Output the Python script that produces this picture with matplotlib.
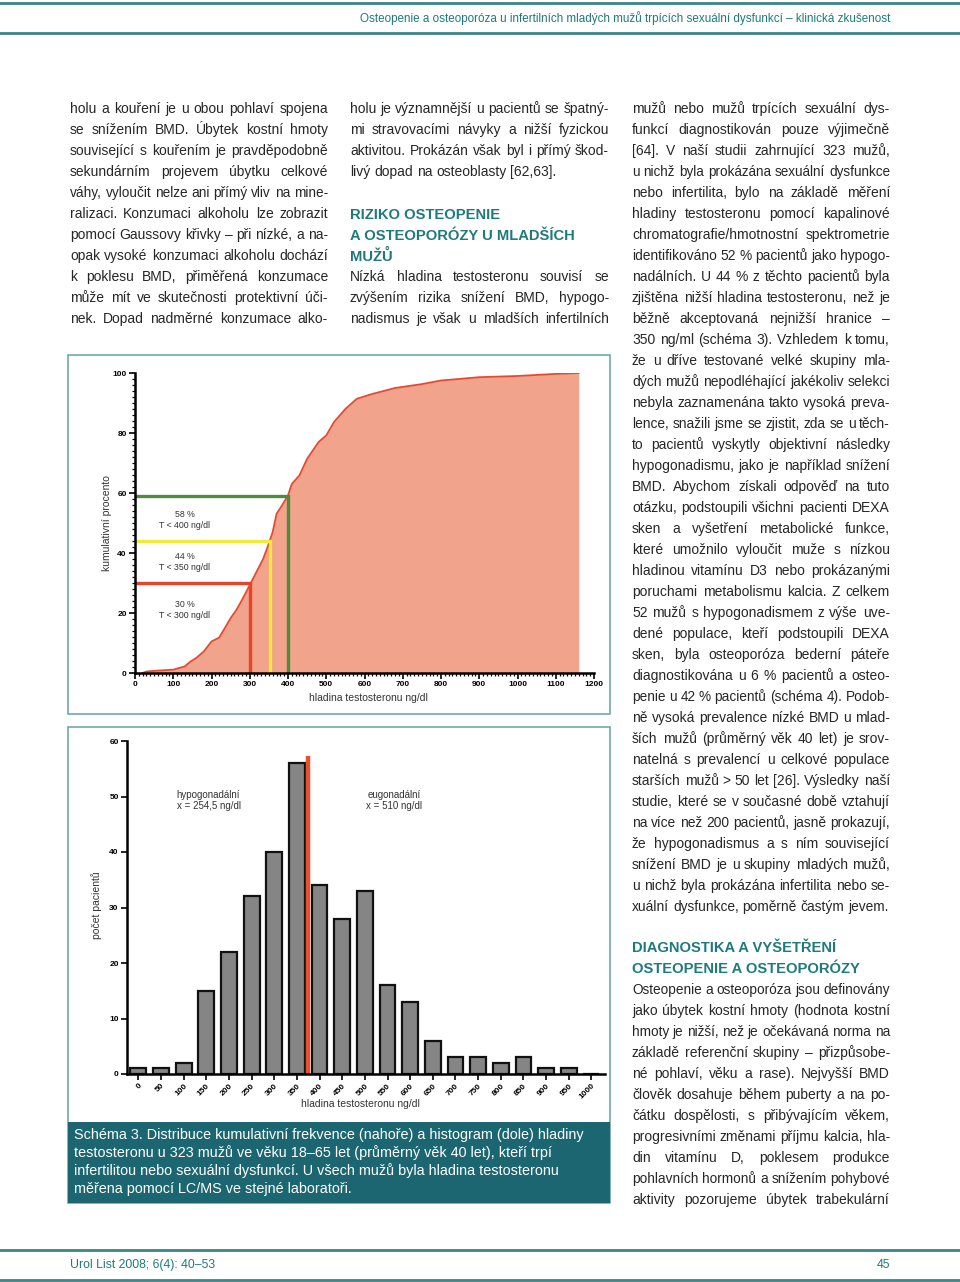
import numpy as np
import matplotlib
matplotlib.use("Agg")
import matplotlib.pyplot as plt
from matplotlib.patches import Rectangle
from matplotlib.lines import Line2D
from matplotlib.ticker import MultipleLocator

W, H = 960, 1282

# ---- data: cumulative frequency (top chart) ----
cum_x = [20, 30, 60, 100, 130, 145, 160, 180, 200, 220, 235, 250, 265, 280, 300,
         320, 335, 350, 360, 370, 385, 400, 410, 430, 450, 480, 500, 520, 550,
         580, 620, 680, 750, 800, 900, 1000, 1100, 1160]
cum_y = [0, 0.5, 0.8, 1.1, 2.2, 3.8, 5, 7.2, 10.5, 11.8, 15, 18.3, 21, 24.4, 29.3,
         34.3, 38, 43.2, 47, 53, 56, 59.2, 63, 65.9, 71.4, 77, 79.2, 83.6, 88,
         91.4, 93, 95, 96.3, 97.5, 98.6, 99, 99.7, 100]
cut_levels = [300, 352, 400]
cut_percent = [30, 44, 59]
cut_colors = ["#e8442c", "#f4e83a", "#4e8c3c"]
cut_labels = ["30 %\nT < 300 ng/dl", "44 %\nT < 350 ng/dl", "58 %\nT < 400 ng/dl"]
cut_label_y = [21, 37, 51]

# ---- data: histogram (bottom chart) ----
hist_bins = [0, 50, 100, 150, 200, 250, 300, 350, 400, 450, 500,
             550, 600, 650, 700, 750, 800, 850, 900, 950, 1000]
hist_counts = [1, 1, 2, 15, 22, 32, 40, 56, 34, 28, 33,
               16, 13, 6, 3, 3, 2, 3, 1, 1, 0]

# ---- page text ----
header_text = "Osteopenie a osteoporóza u infertilních mladých mužů trpících sexuální dysfunkcí – klinická zkušenost"
footer_left = "Urol List 2008; 6(4): 40–53"
footer_right = "45"

col1_lines = [
    "holu a kouření je u obou pohlaví spojena",
    "se snížením BMD. Úbytek kostní hmoty",
    "související s kouřením je pravděpodobně",
    "sekundárním projevem úbytku celkové",
    "váhy, vyloučit nelze ani přímý vliv na mine-",
    "ralizaci. Konzumaci alkoholu lze zobrazit",
    "pomocí Gaussovy křivky – při nízké, a na-",
    "opak vysoké konzumaci alkoholu dochází",
    "k poklesu BMD, přiměřená konzumace",
    "může mít ve skutečnosti protektivní úči-",
    "nek. Dopad nadměrné konzumace alko-",
]
col2_lines_a = [
    "holu je významnější u pacientů se špatný-",
    "mi stravovacími návyky a nižší fyzickou",
    "aktivitou. Prokázán však byl i přímý škod-",
    "livý dopad na osteoblasty [62,63].",
]
col2_heading = ["RIZIKO OSTEOPENIE", "A OSTEOPORÓZY U MLADŠÍCH", "MUŽŮ"]
col2_lines_b = [
    "Nízká hladina testosteronu souvisí se",
    "zvýšením rizika snížení BMD, hypogo-",
    "nadismus je však u mladších infertilních",
]
col3_lines_a = [
    "mužů nebo mužů trpících sexuální dys-",
    "funkcí diagnostikován pouze výjimečně",
    "[64]. V naší studii zahrnující 323 mužů,",
    "u nichž byla prokázána sexuální dysfunkce",
    "nebo infertilita, bylo na základě měření",
    "hladiny testosteronu pomocí kapalinové",
    "chromatografie/hmotnostní spektrometrie",
    "identifikováno 52 % pacientů jako hypogo-",
    "nadálních. U 44 % z těchto pacientů byla",
    "zjištěna nižší hladina testosteronu, než je",
    "běžně akceptovaná nejnižší hranice –",
    "350 ng/ml (schéma 3). Vzhledem k tomu,",
    "že u dříve testované velké skupiny mla-",
    "dých mužů nepodléhající jakékoliv selekci",
    "nebyla zaznamenána takto vysoká preva-",
    "lence, snažili jsme se zjistit, zda se u těch-",
    "to pacientů vyskytly objektivní následky",
    "hypogonadismu, jako je například snížení",
    "BMD. Abychom získali odpověď na tuto",
    "otázku, podstoupili všichni pacienti DEXA",
    "sken a vyšetření metabolické funkce,",
    "které umožnilo vyloučit muže s nízkou",
    "hladinou vitamínu D3 nebo prokázanými",
    "poruchami metabolismu kalcia. Z celkem",
    "52 mužů s hypogonadismem z výše uve-",
    "dené populace, kteří podstoupili DEXA",
    "sken, byla osteoporóza bederní páteře",
    "diagnostikována u 6 % pacientů a osteo-",
    "penie u 42 % pacientů (schéma 4). Podob-",
    "ně vysoká prevalence nízké BMD u mlad-",
    "ších mužů (průměrný věk 40 let) je srov-",
    "natelná s prevalencí u celkové populace",
    "starších mužů > 50 let [26]. Výsledky naší",
    "studie, které se v současné době vztahují",
    "na více než 200 pacientů, jasně prokazují,",
    "že hypogonadismus a s ním související",
    "snížení BMD je u skupiny mladých mužů,",
    "u nichž byla prokázána infertilita nebo se-",
    "xuální dysfunkce, poměrně častým jevem.",
]
col3_heading = ["DIAGNOSTIKA A VYŠETŘENÍ", "OSTEOPENIE A OSTEOPORÓZY"]
col3_lines_b = [
    "Osteopenie a osteoporóza jsou definovány",
    "jako úbytek kostní hmoty (hodnota kostní",
    "hmoty je nižší, než je očekávaná norma na",
    "základě referenční skupiny – přizpůsobe-",
    "né pohlaví, věku a rase). Nejvyšší BMD",
    "člověk dosahuje během puberty a na po-",
    "čátku dospělosti, s přibývajícím věkem,",
    "progresivními změnami příjmu kalcia, hla-",
    "din vitamínu D, poklesem produkce",
    "pohlavních hormonů a snížením pohybové",
    "aktivity pozorujeme úbytek trabekulární",
]
caption_lines = [
    "Schéma 3. Distribuce kumulativní frekvence (nahoře) a histogram (dole) hladiny",
    "testosteronu u 323 mužů ve věku 18–65 let (průměrný věk 40 let), kteří trpí",
    "infertilitou nebo sexuální dysfunkcí. U všech mužů byla hladina testosteronu",
    "měřena pomocí LC/MS ve stejné laboratoři.",
]

TEAL = "#1f7a7c"
TEXT = "#262626"
BODY_FONT = ["Liberation Sans", "DejaVu Sans"]
BODY_SIZE = 10.0

fig = plt.figure(figsize=(W / 100, H / 100), dpi=100)
renderer = fig.canvas.get_renderer()


def fx(x):
    return x / W


def fy(y):
    return 1 - y / H


def hline(y, x0, x1, color, lw):
    fig.add_artist(Line2D([fx(x0), fx(x1)], [fy(y), fy(y)], color=color, lw=lw,
                          transform=fig.transFigure))


def text_width(s, size, family=BODY_FONT, weight="normal"):
    t = fig.text(0, 0, s, fontsize=size, family=family, weight=weight)
    w = t.get_window_extent(renderer).width
    t.remove()
    return w


def put_line(text, x0, x1, y, justify, size=BODY_SIZE, color=TEXT):
    words = text.split(" ")
    space = text_width("a a", size) - text_width("aa", size)
    widths = [text_width(w, size) for w in words]
    # shrink the font a little if the words do not fit with normal spacing
    need = sum(widths) + space * (len(words) - 1)
    if need > x1 - x0:
        size = size * (x1 - x0) / need
        space = text_width("a a", size) - text_width("aa", size)
        widths = [text_width(w, size) for w in words]
    if justify and len(words) > 1:
        gap = (x1 - x0 - sum(widths)) / (len(words) - 1)
    else:
        gap = space
    x = x0
    for w, wd in zip(words, widths):
        fig.text(fx(x), fy(y + 4), w, fontsize=size, color=color, family=BODY_FONT,
                 va="baseline", ha="left")
        x += wd + gap


def put_paragraph(lines, x0, x1, y0, last_left=True, step=21):
    for i, ln in enumerate(lines):
        is_last = (i == len(lines) - 1) and last_left
        put_line(ln, x0, x1, y0 + i * step, not is_last)


def put_heading(lines, x0, y0):
    for i, ln in enumerate(lines):
        fig.text(fx(x0), fy(y0 + i * 21 + 5), ln, fontsize=10.6, color=TEAL,
                 family=BODY_FONT, weight="bold", va="baseline", ha="left")


# header / footer
hline(3, 0, 960, "#3b8587", 2)
hline(33, 0, 960, "#3b8587", 2)
fig.text(fx(890), fy(18), header_text, ha="right", va="center", fontsize=8.35,
         color=TEAL, family=BODY_FONT)
hline(1250, 0, 960, "#3b8587", 2)
hline(1280, 0, 960, "#3b8587", 2)
fig.text(fx(70), fy(1265), footer_left, ha="left", va="center", fontsize=8.8,
         color=TEAL, family=BODY_FONT)
fig.text(fx(890), fy(1265), footer_right, ha="right", va="center", fontsize=8.8,
         color=TEAL, family=BODY_FONT)

# body columns
put_paragraph(col1_lines, 70, 328, 109, last_left=False)
put_paragraph(col2_lines_a, 350, 609, 109)
put_heading(col2_heading, 350, 214)
put_paragraph(col2_lines_b, 350, 609, 277, last_left=False)
put_paragraph(col3_lines_a, 632, 890, 109)
put_heading(col3_heading, 632, 947)
put_paragraph(col3_lines_b, 632, 890, 990, last_left=False)

# frames around the figures
frame_col = "#6fa9aa"
fig.add_artist(Rectangle((fx(68), fy(714)), fx(542), 359 / H, transform=fig.transFigure,
                         fill=False, edgecolor=frame_col, lw=1.2))
fig.add_artist(Rectangle((fx(68), fy(1203)), fx(542), 476 / H, transform=fig.transFigure,
                         fill=False, edgecolor=frame_col, lw=1.2))
fig.add_artist(Rectangle((fx(68), fy(1203)), fx(542), 81 / H, transform=fig.transFigure,
                         facecolor="#1b6670", edgecolor="none"))
for i, ln in enumerate(caption_lines):
    fig.text(fx(74), fy(1134 + i * 18 + 5), ln, fontsize=10.4, color="white",
             family=BODY_FONT, va="baseline", ha="left")


def style_axes(ax):
    for s in ["top", "right"]:
        ax.spines[s].set_visible(False)
    for s in ["left", "bottom"]:
        ax.spines[s].set_linewidth(1.8)
    ax.tick_params(which="major", length=4, width=1.2, labelsize=6, pad=2)
    ax.tick_params(which="minor", length=2.5, width=0.9)
    for lab in ax.get_xticklabels() + ax.get_yticklabels():
        lab.set_fontweight("bold")
        lab.set_family(BODY_FONT)


# ---- top chart: cumulative percentage ----
ax1 = fig.add_axes([fx(135), fy(673), 459 / W, 300 / H])
ax1.fill_between(cum_x, cum_y, 0, color="#f1a38b", lw=0)
ax1.plot(cum_x, cum_y, color="#e8482e", lw=1.3)
for lvl, pct, col in zip(cut_levels, cut_percent, cut_colors):
    ax1.plot([0, lvl, lvl], [pct, pct, 0], color=col, lw=2.4, solid_joinstyle="miter")
for lab, ly in zip(cut_labels, cut_label_y):
    ax1.text(130, ly, lab, ha="center", va="center", fontsize=6.3, color="#333333",
             family=BODY_FONT, linespacing=1.2)
ax1.set_xlim(0, 1200)
ax1.set_ylim(0, 100)
ax1.xaxis.set_major_locator(MultipleLocator(100))
ax1.xaxis.set_minor_locator(MultipleLocator(10))
ax1.yaxis.set_major_locator(MultipleLocator(20))
ax1.yaxis.set_minor_locator(MultipleLocator(2))
style_axes(ax1)
fig.text(fx(107), fy(523), "kumulativní procento", rotation=90, ha="center", va="center",
         fontsize=7.5, color="#333333", family=BODY_FONT)
fig.text(fx(368), fy(698), "hladina testosteronu ng/dl", ha="center", va="center",
         fontsize=7.5, color="#333333", family=BODY_FONT)

# ---- bottom chart: histogram ----
ax2 = fig.add_axes([fx(127), fy(1074), 478 / W, 333 / H])
pos = np.arange(len(hist_bins))
ax2.bar(pos, hist_counts, width=0.7, color="#858585", edgecolor="#111111", lw=1.6)
ax2.plot([7.5, 7.5], [0, 57.3], color="#e9502f", lw=3.2, solid_capstyle="butt")
ax2.text(3.1, 49.3, "hypogonadální\nx = 254,5 ng/dl", ha="center", va="center", fontsize=7,
         color="#333333", family=BODY_FONT, linespacing=1.15)
ax2.text(11.3, 49.3, "eugonadální\nx = 510 ng/dl", ha="center", va="center", fontsize=7,
         color="#333333", family=BODY_FONT, linespacing=1.15)
ax2.set_xlim(-0.5, 20.6)
ax2.set_ylim(0, 60)
ax2.set_xticks(pos)
ax2.set_xticklabels([str(b) for b in hist_bins], rotation=45, ha="right",
                    rotation_mode="anchor")
ax2.yaxis.set_major_locator(MultipleLocator(10))
style_axes(ax2)
fig.text(fx(97), fy(905), "počet pacientů", rotation=90, ha="center", va="center",
         fontsize=7.5, color="#333333", family=BODY_FONT)
fig.text(fx(360), fy(1104), "hladina testosteronu ng/dl", ha="center", va="center",
         fontsize=7.5, color="#333333", family=BODY_FONT)

fig.savefig("out.png", dpi=100)
